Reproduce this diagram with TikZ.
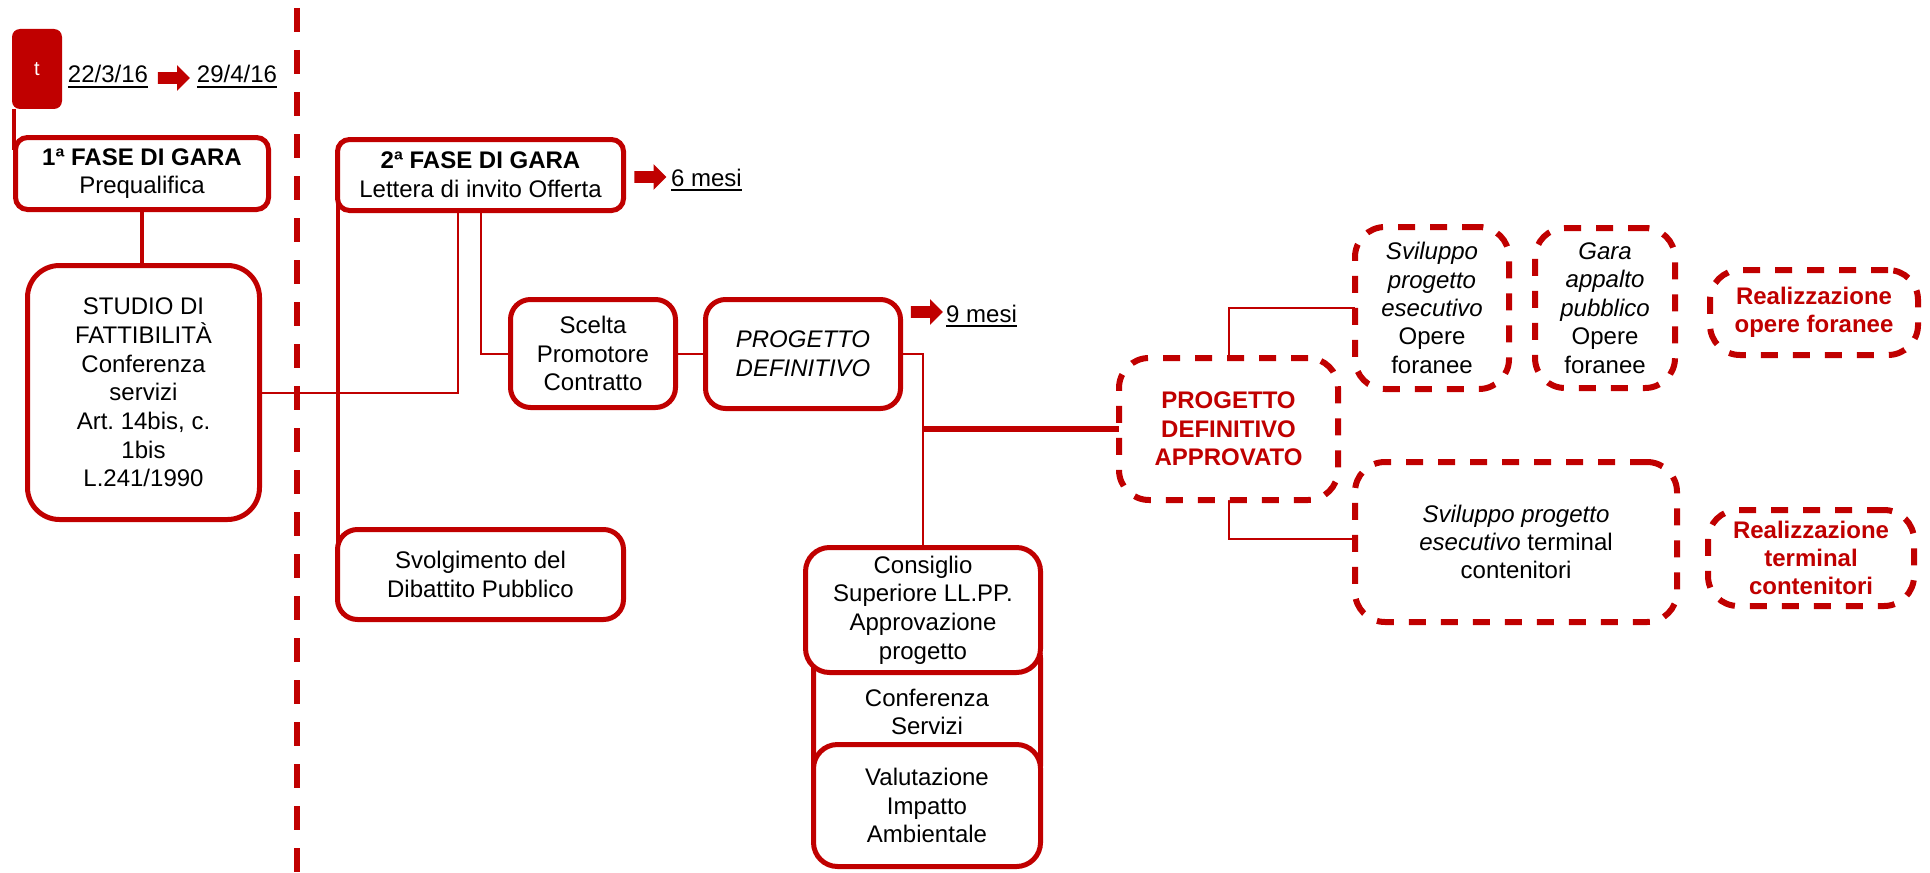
\documentclass[tikz,border=0pt]{standalone}
\usepackage{fontspec}
\setmainfont{Liberation Sans}
\usetikzlibrary{shapes.arrows}
\definecolor{dred}{HTML}{C00000}
\pgfdeclarelayer{background}
\pgfsetlayers{background,main}
\frenchspacing
\newcommand\myul[1]{\setbox0\hbox{#1}\rlap{\rule[-2.3pt]{\wd0}{0.9pt}}\box0}
\begin{document}
\begin{tikzpicture}[x=0.5pt,y=-0.5pt,
  box/.style={draw=dred, line width=2.5pt, fill=white, align=center, inner sep=0pt, outer sep=0pt,
    rounded corners=#1, font=\fontsize{12}{14.35}\selectfont},
  box/.default=10pt,
  dbox/.style={draw=dred, line width=3pt, dash pattern=on 8.5pt off 7.5pt, fill=white, outer sep=0pt,
    align=center, inner sep=0pt, rounded corners=15pt, font=\fontsize{12}{14.2}\selectfont},
  redb/.style={text=dred, font=\fontsize{12}{14.2}\selectfont\bfseries},
  thinc/.style={draw=dred, line width=1pt},
  medc/.style={draw=dred, line width=2pt},
  thickc/.style={draw=dred, line width=3.3pt},
  blk/.style={single arrow, fill=dred, draw=none, minimum height=16pt, inner sep=0pt,
    inner ysep=2.75pt, text width=0pt, single arrow head extend=3.5pt, single arrow head indent=0pt},
  txt/.style={font=\fontsize{12}{14}\selectfont, inner sep=0pt, anchor=base}
]
\useasboundingbox (0,0) rectangle (1930,872);

% divider
\coordinate (dtop) at (297,0);
\coordinate (dbot) at (297,872);
\draw[dred, line width=3pt, dash pattern=on 12pt off 9pt, dash phase=17pt] (dtop) -- (dbot);

% top-left marker and dates
\node[fill=dred, rounded corners=4pt, minimum width=25pt, minimum height=40pt, inner sep=0pt,
  text=white, font=\fontsize{10}{12}\selectfont] (t) at (37,69) {t};
\node[txt] (d1) at (108,83) {\myul{22/3/16}};
\node[blk] (a1) at (171,78) {};
\node[txt] (d2) at (237,83) {\myul{29/4/16}};

% left column
\node[box=6pt, minimum width=126.5pt, minimum height=36pt] (f1) at (142,173.5)
  {\textbf{1ª FASE DI GARA}\\Prequalifica};
\node[box=16pt, minimum width=116pt, minimum height=127pt] (studio) at (143.5,392.5)
  {STUDIO DI\\FATTIBILITÀ\\Conferenza\\servizi\\Art. 14bis, c.\\1bis\\L.241/1990};

% second phase
\node[box=6pt, minimum width=143pt, minimum height=35.5pt] (f2) at (480.5,175)
  {\textbf{2ª FASE DI GARA}\\Lettera di invito Offerta};
\node[blk] (a2) at (647.5,177) {};
\node[txt] (m6) at (706.5,186) {\myul{6 mesi}};
\node[box=10pt, minimum width=143pt, minimum height=45pt] (svol) at (480.5,574.5)
  {Svolgimento del\\Dibattito Pubblico};
\node[box=10pt, minimum width=82.5pt, minimum height=54pt] (scelta) at (593,353.5)
  {Scelta\\Promotore\\Contratto};
\node[box=10pt, minimum width=97.5pt, minimum height=54.5pt] (pd) at (803,354)
  {\textit{PROGETTO}\\\textit{DEFINITIVO}};
\node[blk] (a3) at (924,312) {};
\node[txt] (m9) at (981.5,322) {\myul{9 mesi}};

% approval stack
\node[box=10pt, minimum width=113.5pt, minimum height=74pt] (conf) at (927,712)
  {Conferenza\\Servizi};
\node[box=12pt, minimum width=117.5pt, minimum height=62.5pt] (cons) at (923,610)
  {Consiglio\\Superiore LL.PP.\\Approvazione\\progetto};
\node[box=12pt, minimum width=113.5pt, minimum height=61pt] (via) at (927,805.5)
  {Valutazione\\Impatto\\Ambientale};

% dashed boxes
\node[dbox, redb, minimum width=109.5pt, minimum height=71pt] (pda) at (1228.5,429)
  {PROGETTO\\DEFINITIVO\\APPROVATO};
\node[dbox, minimum width=77pt, minimum height=81pt] (sv1) at (1432,308)
  {\textit{Sviluppo}\\\textit{progetto}\\\textit{esecutivo}\\Opere\\foranee};
\node[dbox, minimum width=70pt, minimum height=80pt] (gara) at (1605,308)
  {\textit{Gara}\\\textit{appalto}\\\textit{pubblico}\\Opere\\foranee};
\node[dbox, redb, minimum width=104pt, minimum height=42.5pt] (rof) at (1814,312.5)
  {Realizzazione\\opere foranee};
\node[dbox, minimum width=161pt, minimum height=80pt] (sv2) at (1516,542)
  {\textit{Sviluppo progetto}\\\textit{esecutivo} terminal\\contenitori};
\node[dbox, redb, minimum width=103pt, minimum height=48pt] (rtc) at (1811,558)
  {Realizzazione\\terminal\\contenitori};

% connectors
\begin{pgfonlayer}{background}
\draw[medc] ([xshift=1pt]t.south west) -- ([xshift=1pt,yshift=-6pt]t.south west |- f1.north);
\draw[medc] (f1.south) -- (f1.south |- studio.north);
\draw[thinc] (studio.east) -| ([xshift=-11.25pt]f2.south);
\draw[medc] (f2.west) -- (svol.west);
\draw[thinc] (f2.south) |- (scelta.west);
\draw[thinc] (scelta.east) -- (scelta.east -| pd.west);
\draw[thinc] (pd.east) -| (cons.north);
\draw[thickc] (cons.north |- pda.west) -- (pda.west);
\draw[thinc] (pda.north) |- (sv1.west);
\draw[thinc] (pda.south) |- ([yshift=1.5pt]sv2.west);
\end{pgfonlayer}
\end{tikzpicture}
\end{document}
